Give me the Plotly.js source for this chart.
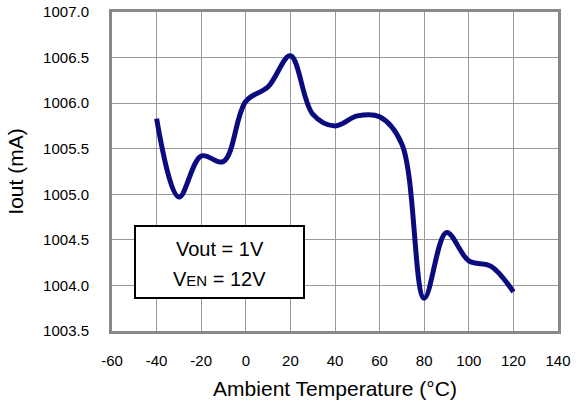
<!DOCTYPE html>
<html>
<head>
<meta charset="utf-8">
<script src="https://cdn.plot.ly/plotly-3.0.1.min.js"></script>
<style>html,body{margin:0;padding:0;background:#fff;}#chart{width:582px;height:403px;}</style>
</head>
<body>
<div id="chart"></div>
<script>
const temperature = [-40, -30, -20, -10, 0, 10, 20, 30, 40, 50, 60, 70, 80, 90, 100, 110, 120];
const iout = [1005.83, 1004.97, 1005.42, 1005.36, 1006.02, 1006.18, 1006.52, 1005.88, 1005.75, 1005.86, 1005.85, 1005.55, 1003.86, 1004.58, 1004.27, 1004.21, 1003.93];
const xTickVals = [-60, -40, -20, 0, 20, 40, 60, 80, 100, 120, 140];
const xTickText = ['-60', '-40', '-20', '0', '20', '40', '60', '80', '100', '120', '140'];
const xTitle = 'Ambient Temperature (°C)';
const yTitle = 'Iout (mA)';
const noteLines = ['Vout = 1V', 'V<span style="font-size:15px">EN</span> = 12V'];

const font = 'Arial, "Liberation Sans", sans-serif';
const trace = {
  x: temperature, y: iout, type: 'scatter', mode: 'lines',
  line: {color: '#0b0b80', width: 5, shape: 'spline', smoothing: 1},
  hoverinfo: 'skip'
};
const layout = {
  width: 582, height: 403,
  margin: {l: 112, r: 24, t: 12, b: 72},
  paper_bgcolor: '#ffffff', plot_bgcolor: '#ffffff',
  showlegend: false,
  font: {family: font, color: '#000'},
  xaxis: {
    range: [-60, 140], tickmode: 'array', tickvals: xTickVals, ticktext: xTickText,
    showgrid: true, gridcolor: '#999999', gridwidth: 1,
    showline: true, mirror: true, linecolor: '#888888', linewidth: 3,
    zeroline: false, ticks: '', ticklabelstandoff: 14,
    tickfont: {size: 15, family: font, color: '#000'},
    title: {text: xTitle, font: {size: 21, family: font, color: '#000'}, standoff: 14}
  },
  yaxis: {
    range: [1003.5, 1007], dtick: 0.5, tick0: 1003.5, tickformat: '.1f',
    showgrid: true, gridcolor: '#999999', gridwidth: 1,
    showline: true, mirror: true, linecolor: '#888888', linewidth: 3,
    zeroline: false, ticks: '', ticklabelstandoff: 17,
    tickfont: {size: 15, family: font, color: '#000'},
    title: {text: yTitle, font: {size: 21, family: font, color: '#000'}, standoff: 14}
  },
  shapes: [{
    type: 'rect', xref: 'paper', yref: 'paper',
    x0: (135 - 112) / 446, x1: (304 - 112) / 446,
    y0: (331 - 298) / 319, y1: (331 - 226) / 319,
    line: {color: '#000', width: 2}, fillcolor: '#ffffff', layer: 'above'
  }],
  annotations: [
    {xref: 'paper', yref: 'paper', x: (219.5 - 112) / 446, y: (331 - 249) / 319,
     text: noteLines[0], showarrow: false, xanchor: 'center', yanchor: 'middle',
     font: {size: 20, family: font, color: '#000'}},
    {xref: 'paper', yref: 'paper', x: (219.5 - 112) / 446, y: (331 - 279) / 319,
     text: noteLines[1], showarrow: false, xanchor: 'center', yanchor: 'middle',
     font: {size: 20, family: font, color: '#000'}}
  ]
};
Plotly.newPlot('chart', [trace], layout, {staticPlot: true, displayModeBar: false});
</script>
</body>
</html>
